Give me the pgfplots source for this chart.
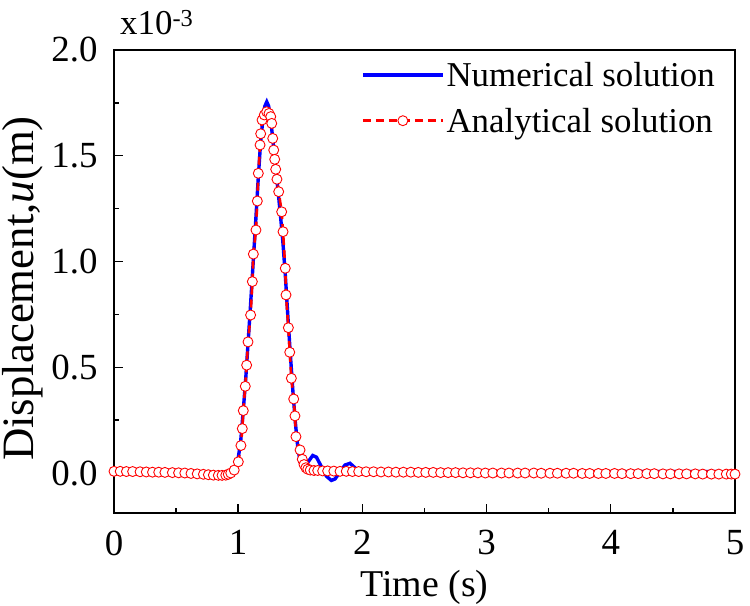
\documentclass[border=0pt]{standalone}
\usepackage{fontspec}
\setmainfont{Liberation Serif}
\usepackage{pgfplots}
\pgfplotsset{compat=1.18}

% numerical solution (units of 1e-3 m)
\pgfplotstableread{
t u
0.00 0.005
0.20 0.004
0.40 0.002
0.60 -0.004
0.75 -0.010
0.85 -0.015
0.92 -0.012
0.95 -0.002
0.97 0.020
1.00 0.070
1.02 0.150
1.04 0.290
1.06 0.440
1.08 0.620
1.10 0.800
1.12 0.990
1.14 1.180
1.16 1.380
1.18 1.560
1.20 1.680
1.215 1.735
1.23 1.755
1.245 1.735
1.26 1.680
1.28 1.570
1.30 1.450
1.32 1.340
1.34 1.220
1.36 1.090
1.38 0.930
1.40 0.740
1.42 0.560
1.44 0.390
1.46 0.240
1.48 0.120
1.50 0.050
1.53 0.030
1.56 0.050
1.60 0.083
1.63 0.075
1.67 0.030
1.71 -0.015
1.75 -0.035
1.78 -0.028
1.82 0.005
1.86 0.038
1.90 0.046
1.94 0.025
1.98 -0.004
2.03 -0.004
2.10 0.004
2.50 0.005
3.00 0.005
3.50 0.006
4.00 0.006
4.50 0.007
5.00 0.006
}\numerical

% analytical solution (units of 1e-3 m)
\pgfplotstableread{
t u
0.00 0.008
0.05 0.008
0.10 0.007
0.15 0.007
0.21 0.006
0.26 0.005
0.31 0.004
0.36 0.004
0.41 0.003
0.47 0.002
0.52 0.001
0.57 0.000
0.62 -0.002
0.67 -0.004
0.72 -0.006
0.76 -0.008
0.80 -0.010
0.84 -0.011
0.87 -0.011
0.90 -0.010
0.92 -0.006
0.94 0.000
0.968 0.014
1.001 0.053
1.022 0.130
1.033 0.210
1.041 0.295
1.057 0.410
1.068 0.510
1.079 0.620
1.100 0.747
1.114 0.905
1.122 1.035
1.143 1.149
1.154 1.286
1.162 1.417
1.176 1.551
1.181 1.604
1.192 1.669
1.210 1.693
1.229 1.708
1.248 1.700
1.262 1.685
1.270 1.653
1.278 1.582
1.286 1.527
1.294 1.483
1.302 1.436
1.312 1.389
1.326 1.330
1.350 1.235
1.361 1.141
1.379 0.968
1.385 0.842
1.404 0.687
1.415 0.571
1.428 0.448
1.447 0.350
1.457 0.270
1.465 0.172
1.498 0.109
1.516 0.065
1.530 0.040
1.545 0.025
1.560 0.018
1.580 0.014
1.610 0.012
1.640 0.012
1.680 0.010
1.720 0.010
1.770 0.009
1.820 0.008
1.870 0.008
1.920 0.007
1.970 0.007
2.03 0.006
2.09 0.006
2.15 0.005
2.21 0.005
2.27 0.004
2.33 0.004
2.39 0.004
2.45 0.003
2.51 0.003
2.57 0.003
2.63 0.002
2.69 0.002
2.75 0.002
2.81 0.001
2.87 0.001
2.93 0.001
2.99 0.000
3.05 0.000
3.12 0.000
3.18 0.000
3.25 0.000
3.31 0.000
3.38 0.000
3.44 -0.001
3.51 -0.001
3.57 -0.001
3.64 -0.001
3.70 -0.001
3.77 -0.002
3.83 -0.002
3.90 -0.002
3.96 -0.002
4.03 -0.002
4.09 -0.003
4.16 -0.003
4.22 -0.003
4.29 -0.003
4.35 -0.003
4.42 -0.004
4.48 -0.004
4.55 -0.004
4.61 -0.004
4.68 -0.004
4.74 -0.005
4.81 -0.005
4.87 -0.005
4.93 -0.005
4.97 -0.005
5.00 -0.005
}\analytical

\begin{document}
\begin{tikzpicture}
\begin{axis}[
  scale only axis,
  width=621bp, height=463bp,
  xmin=0, xmax=5, ymin=-0.189, ymax=2.0,
  clip=false,
  axis line style={line width=1.6bp},
  every tick/.style={black, line width=1.4bp},
  tick align=inside,
  xtick pos=bottom, ytick pos=left,
  major tick length=9bp, minor tick length=5bp,
  xtick={0,1,2,3,4,5}, minor x tick num=1,
  ytick={0,0.5,1.0,1.5,2.0}, minor y tick num=1,
  /pgf/number format/assume math mode=true,
  tick label style={font=\fontsize{37}{43}\selectfont},
  xticklabel style={yshift=-14bp},
  yticklabel style={xshift=-13bp, /pgf/number format/.cd, fixed, fixed zerofill, precision=1},
  xlabel={Time (s)},
  ylabel={Displacement,\textit{u}(m)},
  every axis x label/.style={at={(axis description cs:0.5,0)}, anchor=center,
    yshift=-74bp, font=\fontsize{38}{44}\selectfont},
  every axis y label/.style={at={(axis description cs:0,0.5)}, anchor=center,
    rotate=90, yshift=91bp, xshift=-7bp, font=\fontsize{45}{50}\selectfont},
  legend style={draw=none, fill=none, at={(rel axis cs:1,1)}, anchor=north east,
    xshift=-14bp, yshift=-6bp,
    font=\fontsize{35}{41}\selectfont, row sep=16bp, inner sep=4bp},
  legend cell align=left,
  legend image code/.code={\draw[mark repeat=2, mark phase=2, #1]
    plot coordinates {(0bp,0bp) (40bp,0bp) (80bp,0bp)};},
]
\addplot[blue, line width=3.4bp, no marks] table[x=t, y=u] {\numerical};
\addlegendentry{Numerical solution}
\addplot[red, line width=2.6bp, dash pattern=on 8bp off 5bp,
  mark=*, mark size=5bp, mark options={solid, fill=white, draw=red, line width=0.9bp}]
  table[x=t, y=u] {\analytical};
\addlegendentry{Analytical solution}
\node[anchor=base west, inner sep=0pt, font=\fontsize{35}{40}\selectfont]
  at (rel axis cs:0,1) [xshift=6bp, yshift=15bp] {x10\textsuperscript{-3}};
\end{axis}
\pgfresetboundingbox
\path (-114bp,-93bp) rectangle (636bp,513bp);
\end{tikzpicture}
\end{document}
